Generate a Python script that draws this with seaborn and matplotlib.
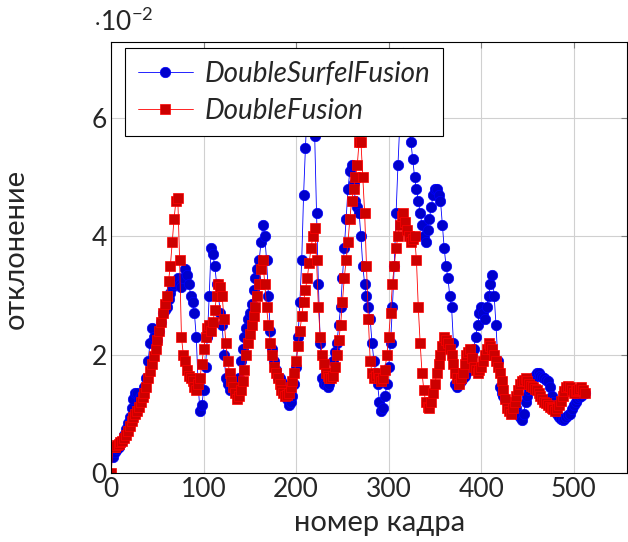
import numpy as np
import pandas as pd
import matplotlib
matplotlib.use("Agg")
import matplotlib.pyplot as plt
import seaborn as sns

# frame numbers (every 2nd frame), values in units of 1e-2
frames = np.arange(0, 513, 2)

surfel_fusion = [
    0.3, 0.28, 0.35, 0.4, 0.45, 0.5, 0.55, 0.65, 0.75, 0.85,
    0.95, 1.1, 1.25, 1.35, 1.35, 1.25, 1.3, 1.35, 1.45, 1.6,
    1.9, 2.2, 2.45, 2.3, 2.2, 2.25, 2.4, 2.55, 2.7, 2.75,
    2.8, 2.95, 3.05, 3.15, 3.2, 3.25, 3.3, 3.2, 3.15, 3.3,
    3.45, 3.35, 3.2, 3.0, 2.9, 2.7, 2.3, 1.5, 1.05, 1.15,
    1.4, 1.8, 2.3, 3.0, 3.8, 3.7, 3.5, 3.2, 3.0, 2.7,
    2.5, 2.0, 1.6, 1.5, 1.4, 1.45, 1.55, 1.5, 1.45, 1.6,
    1.9, 2.1, 2.3, 2.45, 2.6, 2.7, 2.85, 3.1, 3.3, 3.45,
    3.6, 3.9, 4.2, 4.0, 3.6, 3.0, 2.4, 2.1, 1.9, 1.75,
    1.6, 1.6, 1.55, 1.5, 1.4, 1.25, 1.15, 1.2, 1.3, 1.5,
    1.8, 2.3, 2.9, 3.6, 4.7, 5.5, 6.2, 6.8, 7.0, 6.5,
    5.7, 4.4, 3.2, 2.2, 1.6, 1.5, 1.5, 1.45, 1.5, 1.7,
    1.9, 2.05, 2.2, 2.5, 2.8, 3.3, 3.8, 4.3, 4.8, 5.1,
    5.2, 4.9, 4.6, 4.5, 4.4, 4.0, 3.5, 3.2, 3.0, 2.8,
    2.6, 2.2, 1.9, 1.7, 1.5, 1.2, 1.05, 1.1, 1.3, 1.5,
    1.8, 2.2, 2.8, 3.5, 4.4, 5.2, 5.9, 6.6, 7.1, 7.0,
    6.6, 6.0, 5.6, 5.3, 5.0, 4.8, 4.6, 4.4, 4.2, 4.0,
    3.9, 4.1, 4.3, 4.5, 4.7, 4.8, 4.8, 4.7, 4.6, 4.2,
    3.8, 3.5, 3.3, 3.0, 2.8, 2.2, 1.5, 1.45, 1.5, 1.55,
    1.6, 1.65, 1.7, 1.8, 1.9, 2.0, 2.1, 2.3, 2.5, 2.7,
    2.8, 2.7, 2.6, 2.8, 3.0, 3.2, 3.35, 3.0, 2.5, 1.9,
    1.45, 1.35, 1.3, 1.25, 1.2, 1.15, 1.1, 1.15, 1.2, 1.1,
    1.0, 0.95, 0.9, 1.0, 1.2, 1.3, 1.4, 1.5, 1.6, 1.65,
    1.7, 1.7, 1.65, 1.62, 1.6, 1.58, 1.55, 1.45, 1.3, 1.2,
    1.1, 1.0, 0.95, 0.92, 0.9, 0.92, 0.95, 0.98, 1.0, 1.08,
    1.15, 1.2, 1.25, 1.28, 1.3, 1.33, 1.35,
]

double_fusion = [
    0.0, 0.45, 0.45, 0.48, 0.5, 0.52, 0.55, 0.6, 0.65, 0.72,
    0.8, 0.88, 0.95, 1.0, 1.05, 1.12, 1.2, 1.28, 1.35, 1.45,
    1.6, 1.72, 1.85, 1.98, 2.1, 2.25, 2.4, 2.55, 2.7, 2.85,
    3.0, 3.25, 3.5, 3.9, 4.3, 4.6, 4.65, 3.6, 2.3, 2.0,
    1.9, 1.75, 1.65, 1.6, 1.55, 1.45, 1.4, 1.5, 1.6, 1.85,
    2.1, 2.3, 2.45, 2.5, 2.4, 2.55, 2.75, 3.0, 3.2, 3.15,
    3.0, 2.6, 2.2, 1.9, 1.7, 1.55, 1.45, 1.35, 1.25, 1.3,
    1.4, 1.55, 1.75, 2.0, 2.2, 2.35, 2.5, 2.65, 2.8, 3.0,
    3.2, 3.45, 3.6, 3.2, 2.8, 2.5, 2.2, 2.0, 1.8, 1.7,
    1.6, 1.5, 1.4, 1.35, 1.3, 1.32, 1.35, 1.45, 1.55, 1.7,
    1.9, 2.15, 2.4, 2.65, 2.9, 3.1, 3.3, 3.55, 3.8, 4.0,
    4.15, 3.6, 2.8, 2.3, 2.0, 1.85, 1.7, 1.65, 1.6, 1.6,
    1.65, 1.8, 2.0, 2.25, 2.5, 2.9, 3.3, 3.6, 3.9, 4.3,
    4.6, 4.8, 5.0, 5.2, 5.6, 5.6, 5.0, 4.4, 3.5, 2.6,
    1.9, 1.7, 1.6, 1.65, 1.7, 1.6, 1.55, 1.6, 1.75, 2.0,
    2.3, 2.7, 3.2, 3.5, 3.8, 4.0, 4.2, 4.35, 4.4, 4.25,
    4.1, 4.0, 3.9, 3.95, 4.0, 3.6, 2.8, 2.2, 1.7, 1.4,
    1.2, 1.12, 1.1, 1.2, 1.35, 1.5, 1.7, 1.85, 2.0, 2.15,
    2.3, 2.25, 2.2, 2.1, 2.0, 1.85, 1.7, 1.6, 1.5, 1.6,
    1.7, 1.85, 2.0, 2.05, 2.1, 1.95, 1.8, 1.75, 1.7, 1.75,
    1.8, 1.9, 2.0, 2.1, 2.2, 2.15, 2.1, 2.0, 1.9, 1.8,
    1.7, 1.55, 1.4, 1.25, 1.1, 1.05, 1.0, 1.1, 1.2, 1.3,
    1.4, 1.5, 1.55, 1.58, 1.6, 1.55, 1.5, 1.48, 1.45, 1.42,
    1.4, 1.35, 1.3, 1.25, 1.2, 1.18, 1.15, 1.12, 1.1, 1.08,
    1.05, 1.1, 1.15, 1.22, 1.3, 1.38, 1.45, 1.47, 1.45, 1.4,
    1.35, 1.38, 1.4, 1.43, 1.45, 1.4, 1.35,
]

df = pd.DataFrame({"frame": frames,
                   "DoubleSurfelFusion": surfel_fusion,
                   "DoubleFusion": double_fusion})

sns.set_style("white")
plt.rcParams["font.family"] = ["Lato", "DejaVu Sans"]
plt.rcParams["mathtext.fontset"] = "custom"
plt.rcParams["mathtext.rm"] = "Lato"

fig = plt.figure(figsize=(6.28, 5.42), dpi=100)
ax = fig.add_axes([0.177, 0.127, 0.822, 0.795])

sns.lineplot(data=df, x="frame", y="DoubleSurfelFusion", ax=ax,
             color="#0000ff", lw=0.6, marker="o", markersize=7.5,
             markerfacecolor="#0000cc", markeredgecolor="#0000ff",
             markeredgewidth=0.5, label="DoubleSurfelFusion")
sns.lineplot(data=df, x="frame", y="DoubleFusion", ax=ax,
             color="#ff0000", lw=0.6, marker="s", markersize=7,
             markerfacecolor="#cc0000", markeredgecolor="#ff0000",
             markeredgewidth=0.5, label="DoubleFusion")

ax.set_xlim(0, 558)
ax.set_ylim(0, 7.28)
ax.set_xticks([0, 100, 200, 300, 400, 500])
ax.set_yticks([0, 2, 4, 6])
ax.grid(True, color="#d0d0d0", lw=0.8)
ax.set_axisbelow(True)
ax.tick_params(direction="in", length=4, color="#808080", labelsize=19,
               top=True, right=True, pad=3)
for s in ax.spines.values():
    s.set_color("black")
    s.set_linewidth(0.8)

ax.set_xlabel("номер кадра", fontsize=21)
ax.set_ylabel("отклонение", fontsize=21)
ax.xaxis.set_label_coords(0.52, -0.085)
ax.yaxis.set_label_coords(-0.16, 0.52)
ax.text(-0.035, 1.015, r"$\cdot 10^{-2}$", transform=ax.transAxes,
        fontsize=19, ha="left", va="bottom")

leg = ax.legend(loc="upper left", bbox_to_anchor=(0.027, 0.986),
                prop={"style": "italic", "size": 20}, frameon=True,
                fancybox=False, edgecolor="black", framealpha=1,
                handlelength=2.0, borderpad=0.45, labelspacing=0.4,
                handletextpad=0.4, borderaxespad=0)
leg.get_frame().set_linewidth(0.8)
leg.set_zorder(10)

fig.savefig("out.png", dpi=100)
